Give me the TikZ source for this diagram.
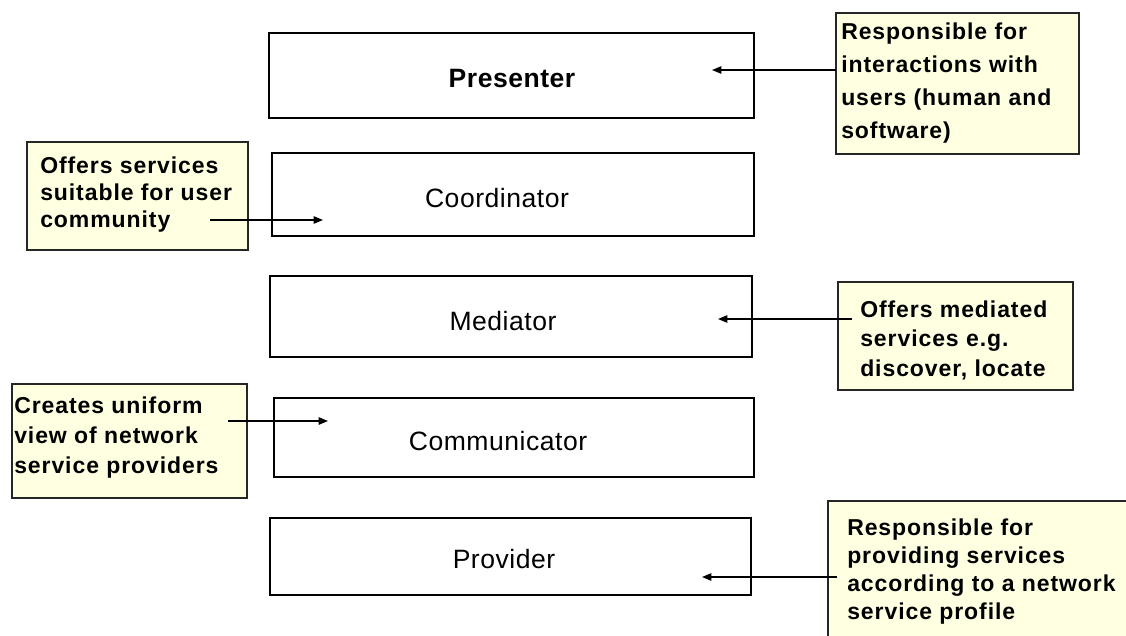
\documentclass[tikz,border=0pt]{standalone}
\usepackage{fontspec}
\setmainfont{Liberation Sans}
\newfontfamily\notefont{Liberation Sans}[LetterSpace=4]
\newfontfamily\layerfont{Liberation Sans}[LetterSpace=2]
\usetikzlibrary{arrows.meta,fit}
\definecolor{noteyellow}{HTML}{FFFFE1}
\begin{document}
\begin{tikzpicture}[x=0.75pt,y=-0.75pt,
  layer/.style={draw=black,line width=1.1pt,inner sep=0pt},
  note/.style={draw=black!85,fill=noteyellow,line width=1.3pt,inner sep=0pt},
  layerlabel/.style={inner sep=0pt,anchor=base,font=\layerfont\fontsize{19.9pt}{24pt}\selectfont},
  notetext/.style={inner sep=0pt,anchor=base west,align=left,font=\notefont\fontsize{17.25pt}{#1}\selectfont\bfseries},
  link/.style={line width=1.1pt,-{Triangle[length=7pt,width=5.5pt]}}
]
\useasboundingbox (0,0) rectangle (1126,635);
\fill[white] (0,0) rectangle (1126,635);

% layer boxes
\node[layer,fit={(269,33)(754,118)}] (pres) {};
\node[layer,fit={(272,153)(754,236)}] (coord) {};
\node[layer,fit={(270,276)(752,357)}] (med) {};
\node[layer,fit={(274,398)(754,477)}] (comm) {};
\node[layer,fit={(270,518)(751,595)}] (prov) {};

\node[layerlabel] (presl) at (512,87) {\bfseries Presenter};
\node[layerlabel] (coordl) at (497,207) {Coordinator};
\node[layerlabel] (medl) at (503,330) {Mediator};
\node[layerlabel] (comml) at (498,450) {Communicator};
\node[layerlabel] (provl) at (504,568) {Provider};

% notes
\node[note,fit={(836,13)(1079,154)}] (n1) {};
\node[note,fit={(27,142)(248,250)}] (n2) {};
\node[note,fit={(838,282)(1073,390)}] (n3) {};
\node[note,fit={(12,384)(247,498)}] (n4) {};
\node[note,fit={(828,501)(1150,660)}] (n5) {};

% texts anchored at the baseline of their last line
\node[notetext=24.75pt] (n1t) at (841,138) {Responsible for\\interactions with\\users (human and\\software)};
\node[notetext=20.25pt] (n2t) at (40,227) {Offers services\\suitable for user\\community};
\node[notetext=22.1pt] (n3t) at (860,376) {Offers mediated\\services e.g.\\discover, locate};
\node[notetext=22.5pt] (n4t) at (14,473) {Creates uniform\\view of network\\service providers};
\node[notetext=21pt] (n5t) at (847,619) {Responsible for\\providing services\\according to a network\\service profile};

% connectors
\coordinate (s1) at (836,70);  \coordinate (e1) at (712,70);
\coordinate (s2) at (210,220); \coordinate (e2) at (323,220);
\coordinate (s3) at (852,319); \coordinate (e3) at (718,319);
\coordinate (s4) at (228,421); \coordinate (e4) at (328,421);
\coordinate (s5) at (837,577); \coordinate (e5) at (702,577);

\draw[link] (s1) -- (e1);
\draw[link] (s2) -- (e2);
\draw[link] (s3) -- (e3);
\draw[link] (s4) -- (e4);
\draw[link] (s5) -- (e5);
\end{tikzpicture}
\end{document}
